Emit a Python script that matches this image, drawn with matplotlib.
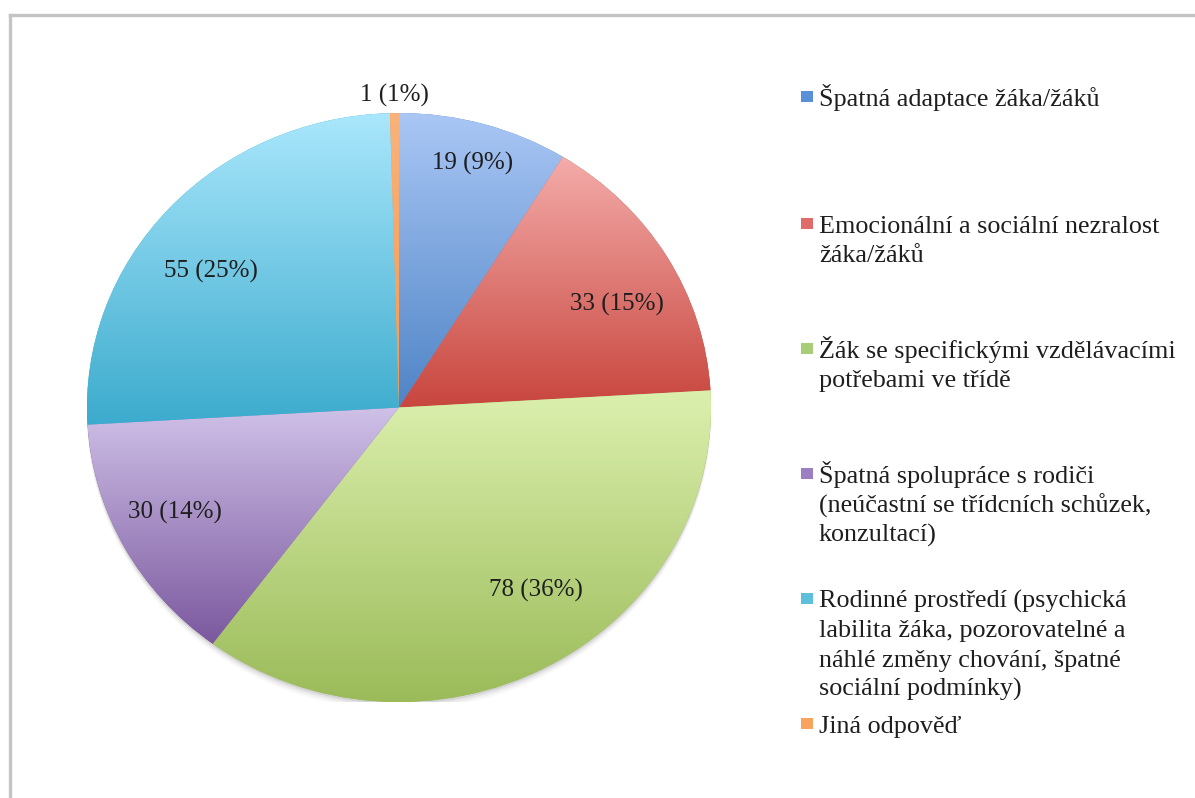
import numpy as np
import matplotlib
matplotlib.use("Agg")
import matplotlib.pyplot as plt
from matplotlib.colors import LinearSegmentedColormap
from matplotlib.patches import Ellipse, Rectangle
from matplotlib.lines import Line2D

# ---------------- data ----------------
categories = [
    "Špatná adaptace žáka/žáků",
    "Emocionální a sociální nezralost žáka/žáků",
    "Žák se specifickými vzdělávacími potřebami ve třídě",
    "Špatná spolupráce s rodiči (neúčastní se třídcních schůzek, konzultací)",
    "Rodinné prostředí (psychická labilita žáka, pozorovatelné a náhlé změny chování, špatné sociální podmínky)",
    "Jiná odpověď",
]
legend_lines = [
    ["Špatná adaptace žáka/žáků"],
    ["Emocionální a sociální nezralost", "žáka/žáků"],
    ["Žák se specifickými vzdělávacími", "potřebami ve třídě"],
    ["Špatná spolupráce s rodiči", "(neúčastní se třídcních schůzek,", "konzultací)"],
    ["Rodinné prostředí (psychická", "labilita žáka, pozorovatelné a",
     "náhlé změny chování, špatné", "sociální podmínky)"],
    ["Jiná odpověď"],
]
values = [19, 33, 78, 30, 55, 1]
percents = [9, 15, 36, 14, 25, 1]

# ---------------- styles ----------------
top_colors = ["#aac7f5", "#f4acaa", "#dcf0ae", "#cfc1e8", "#aae7fc", "#fab27a"]
bottom_colors = ["#4f84c6", "#c8463e", "#9bbb59", "#7b589e", "#3cabcd", "#f59a50"]
marker_colors = ["#5b8fd8", "#e06b6b", "#a9cc78", "#9b7fc2", "#5cc0dc", "#f8a45f"]
label_r = [0.86, 0.78, 0.76, 0.80, 0.76, 1.06]
label_dtheta = [0.0, -4.2, 6.9, -2.0, 5.1, 0.0]
legend_first_baseline = [106, 233, 358, 483, 608, 733]
line_step = 29.3

W, H = 1195, 798
fig = plt.figure(figsize=(W / 100, H / 100), dpi=100)
fig.patch.set_facecolor("white")


def fx(px):
    return px / W


def fy(py):
    return 1 - py / H


# frame (left and top edges visible)
frame_kw = dict(transform=fig.transFigure, color="#c4c4c4", linewidth=2.4)
fig.add_artist(Line2D([fx(10), fx(10)], [fy(14.5), 0], **frame_kw))
fig.add_artist(Line2D([fx(10), 1], [fy(14.5), fy(14.5)], **frame_kw))

# ---------------- pie ----------------
cx, cy, rx, ry = 399, 407.5, 312, 294.5
ax = fig.add_axes([fx(cx - rx), fy(cy + ry), 2 * rx / W, 2 * ry / H])
ax.set_axis_off()

labels = [f"{v} ({p}%)" for v, p in zip(values, percents)]
wedges, texts = ax.pie(
    values, startangle=90, counterclock=False, labels=labels,
    labeldistance=0.8, colors=bottom_colors,
    wedgeprops=dict(linewidth=0),
    textprops=dict(family="Liberation Serif", fontsize=18, color="#1e1e1e"),
)
ax.set_aspect("auto")

# soft shadow below the pie
px_y = 2.0 / (2 * ry)
for k, a in zip([2, 4, 6, 8], [0.12, 0.08, 0.05, 0.03]):
    ax.add_patch(Ellipse((0, -k * px_y), 2.0, 2.0, facecolor="#555555",
                         edgecolor="none", alpha=a, zorder=0.5))

# vertical gradient per slice
grad = np.linspace(0, 1, 256).reshape(-1, 1)
for w, ct, cb in zip(wedges, top_colors, bottom_colors):
    ext = w.get_path().get_extents()
    cmap = LinearSegmentedColormap.from_list("g", [cb, ct])
    im = ax.imshow(grad, extent=(ext.x0, ext.x1, ext.y0, ext.y1), origin="lower",
                   aspect="auto", cmap=cmap, interpolation="bicubic", zorder=1.5)
    im.set_clip_path(w)

# label placement
for w, t, r, dth in zip(wedges, texts, label_r, label_dtheta):
    mid = np.deg2rad((w.theta1 + w.theta2) / 2 + dth)
    t.set_position((r * np.cos(mid), r * np.sin(mid)))
    t.set_ha("center")
    t.set_va("center")
    t.set_zorder(3)

ax.set_xlim(-1, 1)
ax.set_ylim(-1, 1)

# ---------------- legend ----------------
for lines, col, b0 in zip(legend_lines, marker_colors, legend_first_baseline):
    fig.add_artist(Rectangle((fx(801), fy(b0 - 4)), 12 / W, 11 / H,
                             transform=fig.transFigure, facecolor=col,
                             edgecolor="none"))
    for k, line in enumerate(lines):
        fig.text(fx(819), fy(b0 + k * line_step), line, ha="left", va="baseline",
                 family="Liberation Serif", fontsize=18.8, color="#1e1e1e")

fig.savefig("out.png", dpi=100, facecolor="white")
